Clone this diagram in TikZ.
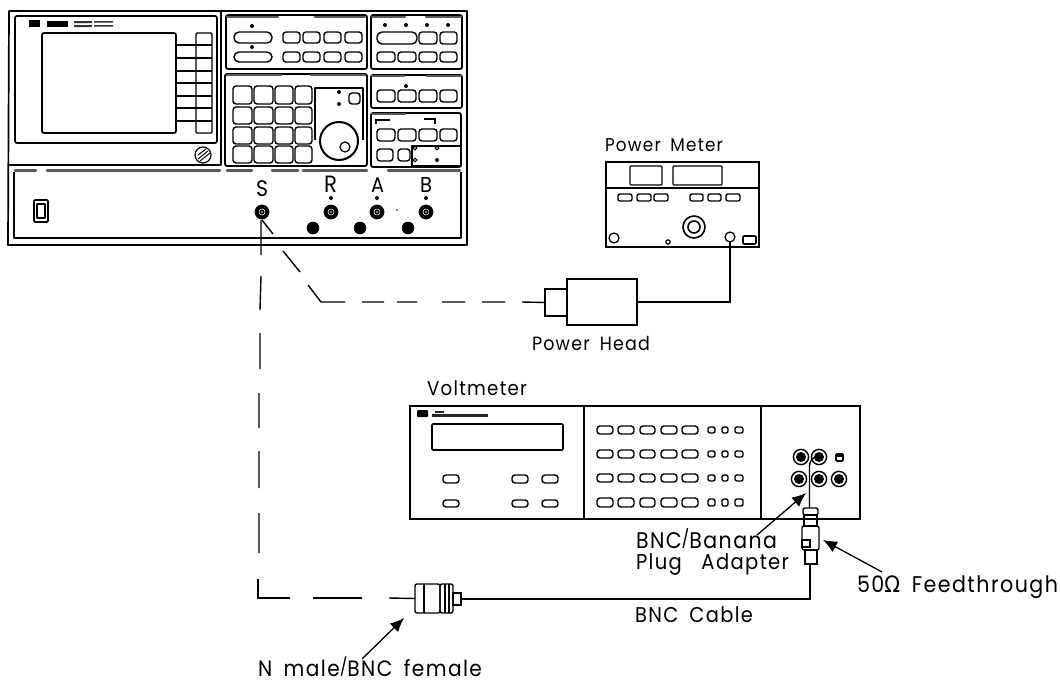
\documentclass[tikz,border=0pt]{standalone}
\usepackage{fontspec}
\usepackage{graphicx}
\setmainfont{Poppins}[LetterSpace=7,WordSpace=1.7]
\newfontfamily\gkfont{DejaVu Sans}
\usetikzlibrary{arrows.meta,fit}
\tikzset{
  ln/.style={line width=1.2pt,line join=round},
  frm/.style={line width=1.7pt,line join=round},
  btn/.style={line width=1.4pt,rounded corners=3pt},
  strip/.style={line width=2.6pt,line cap=round,draw=black!65},
  box/.style={draw,line width=1.4pt,inner sep=0pt,outer sep=0pt},
  rbox/.style={box,rounded corners=2pt},
  cable/.style={line width=1.4pt},
  lead/.style={line width=1.3pt,-{Latex[length=14pt,width=12pt]}},
  lbl/.style={anchor=base west,inner sep=0pt,outer sep=0pt,font=\fontsize{17}{20}\selectfont},
}
\newcommand{\fitw}[2]{\scalebox{1}[1.1]{\resizebox{#1pt}{!}{#2}}}
\newcommand{\slashmark}{\raisebox{.12em}{\scalebox{.8}{/}}}
\newcommand{\jack}[2]{%
  \fill (#1,#2) circle[radius=7.4pt];
  \draw[white,line width=.55pt] (#1,#2) circle[radius=3pt];
  \fill[white] (#1,#2) circle[radius=.8pt];}
\newcommand{\banana}[2]{%
  \draw[line width=1.4pt] (#1,#2) circle[radius=7.6pt];
  \fill (#1,#2) circle[radius=5pt];}
\begin{document}
\begin{tikzpicture}[x=1pt,y=-1pt]
\useasboundingbox (0,0) rectangle (1060,683);
% ---------- main analyzer ----------
\draw[frm] (9,11) -- (467,11) -- (467,245) -- (8,245) -- cycle;
\draw[ln] (9,165) -- (221,165) -- (221,11);
\draw[frm,rounded corners=2pt] (15,16) rectangle (217,143);
\draw[frm,rounded corners=2pt] (42,33) rectangle (176,133);
\draw[ln,rounded corners=1pt] (196,33) rectangle (212,133);
\foreach \y in {45,58,71,83,96,108,121} \draw[frm] (176,\y) -- (212,\y);
\fill (29,20) rectangle (40,27);
\fill (47,21) rectangle (68,27);
\fill[black!80] (74,21) rectangle (92,23) (74,25) rectangle (92,27);
\fill[black!80] (94,21) rectangle (113,22.5) (94,25) rectangle (113,26.5);
\draw[ln] (203,155) circle[radius=8pt];
\draw[line width=1pt] (198,159) -- (208,151) (198,155) -- (206,149) (200,161) -- (210,153);
% lower panel
\draw[frm] (14,172) -- (14,238) -- (461,238) -- (461,172);
\foreach \a/\b in {15/36,47/220,227/252,272/298,303/367,388/460} \draw[strip] (\a,170.5) -- (\b,170.5);
\draw[frm,rounded corners=1pt] (34,200) rectangle (48,222);
\draw[ln] (37,204) rectangle (45,218);
% panel 1
\draw[frm,rounded corners=2pt] (226,15) rectangle (367,69);
\foreach \a/\b in {227/278,315/365} \draw[strip] (\a,17) -- (\b,17);
\draw[btn,rounded corners=5pt] (234,32) rectangle (272,43);
\draw[btn,rounded corners=5pt] (234,52) rectangle (272,62);
\foreach \y in {26,47} \fill (252,\y) circle[radius=2pt];
\foreach \a/\b in {283/300,303/320,324/341,345/362} {
  \draw[btn] (\a,32) rectangle (\b,43);
  \draw[btn] (\a,52) rectangle (\b,62);}
% panel 2
\draw[frm,rounded corners=2pt] (371,15) rectangle (462,69);
\foreach \a/\b in {372/405,426/461} \draw[strip] (\a,17) -- (\b,17);
\foreach \x in {385,406,427,448} \fill (\x,25) circle[radius=2pt];
\draw[btn,rounded corners=5pt] (377,32) rectangle (417,44);
\foreach \a/\b in {419/437,440/457} \draw[btn] (\a,32) rectangle (\b,44);
\foreach \a/\b in {377/395,398/416,419/437,440/457} \draw[btn] (\a,52) rectangle (\b,62);
% panel 3
\draw[frm,rounded corners=2pt] (225,74) rectangle (367,166);
\foreach \a/\b in {227/281,311/365} \draw[strip] (\a,75) -- (\b,75);
\foreach \a/\b in {233/252,254/273,275/293,295/312}
  \foreach \c/\d in {86/104,107/124,127/144,146/163}
    \draw[btn] (\a,\c) rectangle (\b,\d);
\draw[ln] (315,140) -- (315,88) -- (363,88) -- (363,140);
\fill[white] (339,141) circle[radius=19pt];
\draw[line width=2pt] (339,141) circle[radius=19pt];
\draw[ln] (345,147) circle[radius=5pt];
\foreach \y in {92,104} \fill (339,\y) circle[radius=2pt];
\draw[btn] (349,93) rectangle (360,104);
% panel 4
\draw[frm,rounded corners=2pt] (371,75) rectangle (462,108);
\foreach \a/\b in {372/404,427/461} \draw[strip] (\a,76) -- (\b,76);
\fill (406,86) circle[radius=2pt];
\foreach \a/\b in {377/395,398/416,419/437,440/457} \draw[btn] (\a,90) rectangle (\b,102);
% panel 5
\draw[frm,rounded corners=2pt] (371,113) rectangle (461,167);
\draw[strip] (372,114) -- (405,114);
\draw[line width=1.5pt] (376,124) -- (376,120) -- (390,120);
\draw[line width=1.5pt] (424,119) -- (435,119) -- (435,124);
\foreach \a/\b in {377/395,398/416,419/437,440/457} \draw[btn] (\a,129) rectangle (\b,141);
\draw[btn] (377,149) rectangle (393,161);
\draw[btn] (398,149) rectangle (410,161);
\draw[frm] (412,146) rectangle (461,166);
\foreach \x in {415,437} {\draw[line width=1pt] (\x,148) circle[radius=1.8pt];}
\draw[line width=1pt] (415,160) circle[radius=1.8pt];
\fill (437,160) circle[radius=2pt];
% connectors
\jack{262}{212}\jack{331}{212}\jack{377}{212}\jack{426}{212}
\foreach \x in {331,377,426} \fill (\x,198) circle[radius=2pt];
\foreach \x in {313,360,408} \fill (\x,228) circle[radius=6.3pt];
\fill (397,210) circle[radius=.9pt];
\node[lbl] (ls) at (256,196) {\fitw{12}{S}};
\node[lbl] (lr) at (324,192) {\fitw{13}{R}};
\node[lbl] (la) at (371,192) {\fitw{13}{A}};
\node[lbl] (lb) at (420,192) {\fitw{12}{B}};
% ---------- power meter ----------
\node[box,fit={(606,162)(759,247)}] (meter) {};
\draw[ln] (606,188) -- (759,188);
\draw[ln,rounded corners=1pt] (630,166) rectangle (662,185);
\draw[ln,rounded corners=1pt] (673,166) rectangle (722,185);
\foreach \a/\b in {618/632,637/651,654/668,690/703,708/721,726/740} \draw[btn,rounded corners=2pt] (\a,194) rectangle (\b,201);
\draw[line width=1.6pt] (694,227) circle[radius=11pt] (694,227) circle[radius=6pt];
\draw[ln] (614,238) circle[radius=5pt];
\draw[ln] (668,242) circle[radius=2.2pt];
\draw[ln] (730,237) circle[radius=5pt];
\draw[btn,rounded corners=1pt,line width=1.6pt] (743,236) rectangle (756,244);
\coordinate (pmport) at (730,242);
\node[lbl] (lpm) at (605,151) {\fitw{118}{Power Meter}};
% ---------- power head ----------
\node[box,fit={(567,279)(637,325)}] (head) {};
\node[box,fit={(545,289)(567,316)}] (nose) {};
\draw[cable] (head.east) -| (pmport);
\node[lbl] (lph) at (532,350) {\fitw{118}{Power Head}};
% ---------- dashed cables ----------
\foreach \n/\x/\y in {
  d1/273/234, d2/283/251, d3/300/272, d4/308/285, d5/321/302, d6/345/302,
  d7/362/302, d8/384/302, d9/397/302, d10/417/302, d11/442/302, d12/465/302,
  d13/482/302, d14/505/302, d15/522/302,
  v0/261/220, v1/261/255, v2/261/276, v3/260/310, v4/260/333, v5/260/369,
  v6/259/393, v7/259/428, v8/259/451, v9/259/488, v10/259/513, v11/259/553,
  v12/258/579, v13/258/598, v14/290/598, v15/313/598, v16/362/598, v17/389/598,
  s0/262/220}
  {\coordinate (\n) at (\x,\y);}
\draw[cable] (s0) -- (d1) (d2) -- (d3) (d4) -- (d5) -- (d6) (d7) -- (d8) (d9) -- (d10)
  (d11) -- (d12) (d13) -- (d14);
\draw[cable] (d15) -- (nose.west);
\draw[cable] (v0) -- (v1) (v2) -- (v3) (v4) -- (v5) (v6) -- (v7) (v8) -- (v9) (v10) -- (v11);
\draw[cable] (v12) -- (v13) -- (v14) (v15) -- (v16);
% ---------- N adapter ----------
\node[rbox,fit={(415,584)(440,613)}] (nbody) {};
\node[rbox,fit={(440,584)(453,613)}] (nring) {};
\draw[line width=1.1pt] (424,584) -- (424,613) (445,584) -- (445,613) (449,584) -- (449,613);
\node[box,fit={(453,593)(461,605)}] (nnub) {};
\draw[cable] (v17) -- (nbody.west);
\node[lbl] (ln) at (258,676) {\fitw{224}{N male\slashmark BNC female}};
\coordinate (nfrom) at (362,659);
\coordinate (nto) at (404,618);
\draw[lead] (nfrom) -- (nto);
% ---------- voltmeter ----------
\node[box,fit={(410,406)(860,519)}] (volt) {};
\draw[ln] (584,406) -- (584,519) (761,406) -- (761,519);
\fill[rounded corners=1pt] (417,410) rectangle (428,417);
\fill[black!85] (432,414) rectangle (488,416.5);
\fill[black!85] (435,411) rectangle (444,412.5);
\draw[frm,rounded corners=1pt] (432,424) rectangle (563,450);
\foreach \a/\b in {443/459,512/528,542/558} {
  \draw[btn] (\a,475) rectangle (\b,483);
  \draw[btn] (\a,500) rectangle (\b,507);}
\foreach \c/\d in {426/434,450/458,474/482,498/507} {
  \foreach \a/\b in {597/613,618/634,640/655,661/677,682/698}
    \draw[btn] (\a,\c) rectangle (\b,\d);
  \foreach \a/\b in {708/715,722/728,735/743}
    \draw[btn,rounded corners=2pt] (\a,\c+1) rectangle (\b,\d-1);}
\banana{801}{457}\banana{819}{457}\banana{799}{479}\banana{819}{479}\banana{839}{479}
\draw[line width=1.6pt,rounded corners=1pt] (836,454) rectangle (843,461);
\fill (836,454) rectangle (843,457);
\node[lbl] (lv) at (427,395) {\fitw{100}{Voltmeter}};
% ---------- feedthrough stack ----------
\node[rbox,fit={(803,508)(818,515)}] (ad1) {};
\node[box,fit={(804,515)(817,526)}] (ad2) {};
\node[rbox,fit={(802,526)(819,550)}] (ad3) {};
\node[box,fit={(805,550)(817,564)}] (ad4) {};
\draw[line width=1.3pt] (802,540) rectangle (810,547);
\coordinate (banjack) at (817,457);
\draw[cable] (banjack) to[out=180,in=90] (809.5,466) -- (809.5,508);
\coordinate (bncup) at (810,564);
\draw[cable] (nnub.east) -- (810,599) -- (bncup);
% ---------- labels ----------
\node[lbl] (lba) at (636,548) {\fitw{141}{BNC\slashmark Banana}};
\node[lbl] (lpa) at (636,569) {\fitw{153}{Plug\hspace{1em}Adapter}};
\node[lbl] (lbc) at (635,622) {\fitw{118}{BNC Cable}};
\node[lbl] (lf) at (857,592) {\fitw{201}{50{\gkfont Ω} Feedthrough}};
\coordinate (ba0) at (757,535);
\coordinate (ba1) at (806,493);
\draw[lead] (ba0) -- (ba1);
\coordinate (ft0) at (882,572);
\coordinate (ft1) at (823,540);
\draw[lead] (ft0) -- (ft1);
\end{tikzpicture}
\end{document}
